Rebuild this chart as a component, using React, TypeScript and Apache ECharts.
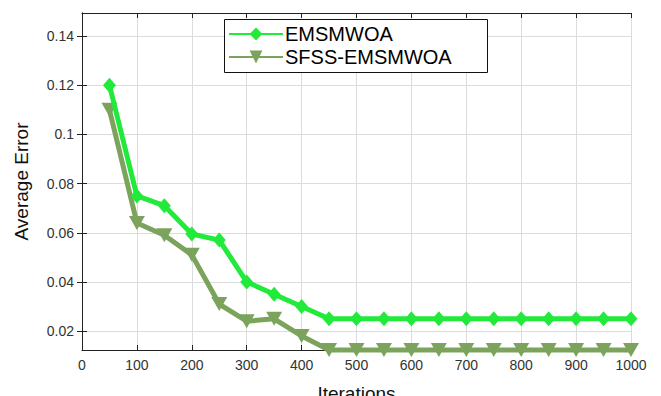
import React, { useEffect, useRef } from "react";
import * as echarts from "echarts";

const iterations = [50, 100, 150, 200, 250, 300, 350, 400, 450, 500, 550, 600, 650, 700, 750, 800, 850, 900, 950, 1000];
const emsmwoa = [0.12, 0.075, 0.071, 0.0595, 0.057, 0.04, 0.035, 0.03, 0.025, 0.025, 0.025, 0.025, 0.025, 0.025, 0.025, 0.025, 0.025, 0.025, 0.025, 0.025];
const sfssEmsmwoa = [0.11, 0.064, 0.059, 0.051, 0.031, 0.024, 0.025, 0.018, 0.0123, 0.0123, 0.0123, 0.0123, 0.0123, 0.0123, 0.0123, 0.0123, 0.0123, 0.0123, 0.0123, 0.0123];
const yTicks = [0.02, 0.04, 0.06, 0.08, 0.1, 0.12, 0.14];
const yLabels = ["0.02", "0.04", "0.06", "0.08", "0.1", "0.12", "0.14"];
const seriesNames = ["EMSMWOA", "SFSS-EMSMWOA"];

const FONT = "'Liberation Sans', Arial, sans-serif";

export default function App() {
  const ref = useRef<HTMLDivElement>(null);
  useEffect(() => {
    if (!ref.current) return;
    const chart = echarts.init(ref.current, undefined, { renderer: "svg" });
    const yMin = 0.0123;
    const yMax = 0.1494;
    const tickStyle = { show: true, inside: true, length: 5, lineStyle: { color: "#222", width: 1 } };
    chart.setOption({
      animation: false,
      backgroundColor: "#fff",
      textStyle: { fontFamily: FONT },
      grid: { left: 82, right: 30, top: 13, bottom: 46, containLabel: false, outerBoundsMode: "none" },
      graphic: [
        {
          type: "rect",
          z: 90,
          shape: { x: 224.5, y: 19.5, width: 263, height: 53 },
          style: { fill: "#fff", stroke: "#111", lineWidth: 1 },
        },
      ],
      legend: {
        orient: "vertical",
        left: 224,
        top: 19,
        z: 100,
        data: seriesNames,
        backgroundColor: "transparent",
        borderWidth: 0,
        padding: [5, 4, 5, 4],
        itemGap: 3,
        itemWidth: 54,
        itemHeight: 16,
        textStyle: { fontSize: 20, color: "#000", fontFamily: FONT, padding: [0, 0, 0, -3] },
      },
      xAxis: [
        {
          type: "value",
          min: 0,
          max: 1000,
          interval: 100,
          name: "Iterations",
          nameLocation: "middle",
          nameGap: 34,
          nameMoveOverlap: false,
          nameTextStyle: { fontSize: 19, lineHeight: 19, color: "#111", fontFamily: FONT },
          axisLine: { show: true, lineStyle: { color: "#222", width: 1 } },
          axisTick: tickStyle,
          axisLabel: { fontSize: 14, color: "#333", margin: 8, fontFamily: FONT, formatter: (v: number) => String(v) },
          splitLine: { show: true, lineStyle: { color: "#dcdcdc", width: 1 } },
        },
        {
          type: "value",
          position: "top",
          min: 0,
          max: 1000,
          interval: 100,
          axisLine: { show: true, lineStyle: { color: "#222", width: 1 } },
          axisTick: tickStyle,
          axisLabel: { show: false },
          splitLine: { show: false },
        },
      ],
      yAxis: [
        {
          type: "value",
          min: yMin,
          max: yMax,
          name: "Average Error",
          nameLocation: "middle",
          nameGap: 51,
          nameTextStyle: { fontSize: 19, color: "#111", fontFamily: FONT },
          axisLine: { show: true, lineStyle: { color: "#222", width: 1 } },
          axisTick: { ...tickStyle, customValues: yTicks },
          axisLabel: {
            fontSize: 14,
            color: "#333",
            margin: 8,
            fontFamily: FONT,
            customValues: yTicks,
            formatter: (v: number) => {
              const i = yTicks.findIndex((t) => Math.abs(t - v) < 1e-6);
              return i >= 0 ? yLabels[i] : "";
            },
          },
          splitLine: { show: true, lineStyle: { color: "#dcdcdc", width: 1 } },
        },
        {
          type: "value",
          position: "right",
          min: yMin,
          max: yMax,
          axisLine: { show: true, lineStyle: { color: "#222", width: 1 } },
          axisTick: { ...tickStyle, customValues: yTicks },
          axisLabel: { show: false },
          splitLine: { show: false },
        },
      ],
      series: [
        {
          name: seriesNames[0],
          type: "line",
          data: iterations.map((x, i) => [x, emsmwoa[i]]),
          color: "#22ea3a",
          lineStyle: { width: 5, color: "#22ea3a" },
          symbol: "diamond",
          symbolSize: [13, 15],
          itemStyle: { color: "#22ea3a" },
          z: 3,
        },
        {
          name: seriesNames[1],
          type: "line",
          data: iterations.map((x, i) => [x, sfssEmsmwoa[i]]),
          color: "#7ba35c",
          lineStyle: { width: 5, color: "#7ba35c" },
          symbol: "triangle",
          symbolRotate: 180,
          symbolSize: [16, 14],
          itemStyle: { color: "#7ba35c" },
          clip: false,
          z: 2,
        },
      ],
    });
    return () => chart.dispose();
  }, []);
  return <div ref={ref} style={{ width: 661, height: 396, position: "absolute", left: 0, top: 0 }} />;
}
